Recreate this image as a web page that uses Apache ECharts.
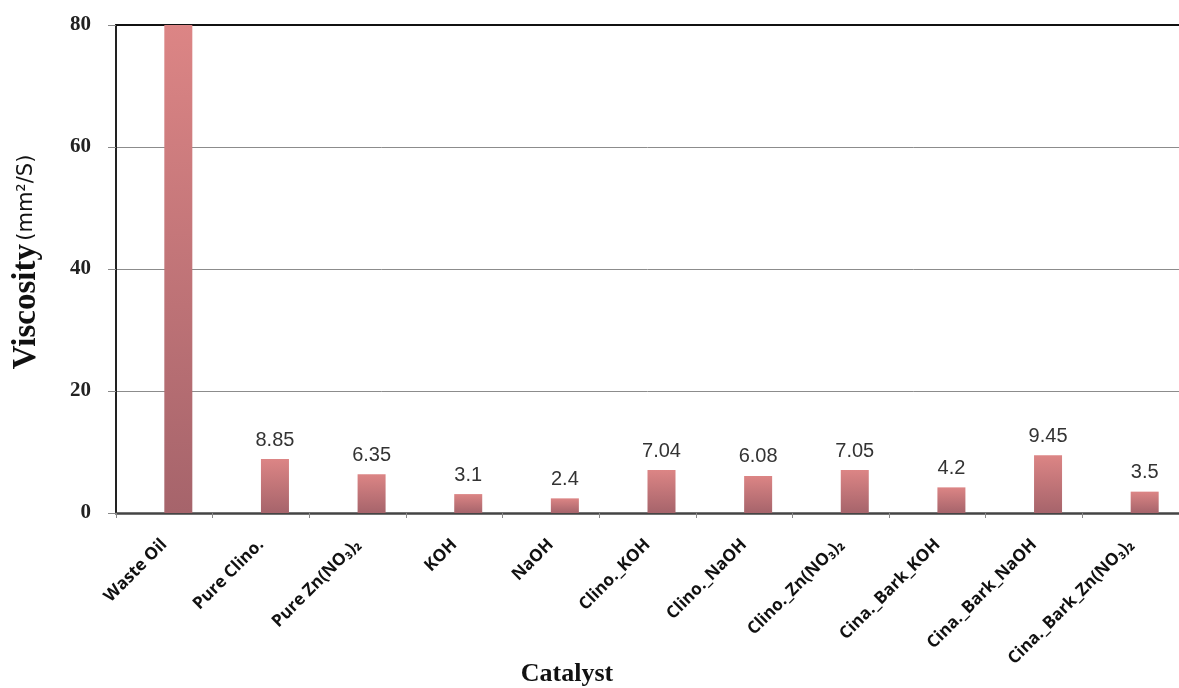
<!DOCTYPE html>
<html>
<head>
<meta charset="utf-8">
<script src="https://cdn.jsdelivr.net/npm/echarts@6/dist/echarts.min.js"></script>
<style>
html,body{margin:0;padding:0;background:#fff;}
#chart{width:1179px;height:688px;}
</style>
</head>
<body>
<div id="chart"></div>
<script>
var categories = ["Waste Oil","Pure Clino.","Pure Zn(NO\u2083)\u2082","KOH","NaOH","Clino._KOH","Clino._NaOH","Clino._Zn(NO\u2083)\u2082","Cina._Bark_KOH","Cina._Bark_NaOH","Cina._Bark_Zn(NO\u2083)\u2082"];
var viscosity = [80, 8.85, 6.35, 3.1, 2.4, 7.04, 6.08, 7.05, 4.2, 9.45, 3.5];
var yTicks = [0, 20, 40, 60, 80];

var chart = echarts.init(document.getElementById('chart'));
var grad = new echarts.graphic.LinearGradient(0,0,0,1,[
  {offset:0,color:'#dc8585'},
  {offset:1,color:'#a6646b'}
]);
var seriesData = viscosity.map(function(v,i){
  if (i === 0) return {value:v, label:{show:false}};
  return v;
});
chart.setOption({
  animation:false,
  title:{
    text:'Catalyst',
    left:562, top:656, textAlign:'center',
    textStyle:{fontFamily:'Liberation Serif', fontWeight:'bold', fontSize:26, color:'#111'}
  },
  grid:{left:116, top:25, width:1074, height:488, containLabel:false},
  xAxis:[{
    type:'category',
    data:categories,
    position:'bottom',
    axisLine:{show:true, lineStyle:{color:'#444', width:2.5}},
    axisTick:{show:true, alignWithLabel:false, length:5, lineStyle:{color:'#888'}},
    axisLabel:{interval:0, rotate:45, margin:29, fontFamily:'Open Sans', fontWeight:'bold', fontSize:17, color:'#111'},
    splitLine:{show:false}
  },{
    type:'category',
    data:categories,
    position:'top',
    axisLine:{show:true, lineStyle:{color:'#111', width:2}},
    axisTick:{show:false},
    axisLabel:{show:false}
  }],
  yAxis:{
    type:'value',
    min:yTicks[0], max:yTicks[yTicks.length-1], interval:20,
    axisLine:{show:true, lineStyle:{color:'#222', width:2}},
    axisTick:{show:true, length:8, lineStyle:{color:'#888'}},
    axisLabel:{margin:25, fontFamily:'Liberation Serif', fontWeight:'bold', fontSize:21, color:'#222'},
    splitLine:{show:true, lineStyle:{color:'#8c8c8c', width:1}},
    name:'{a|Viscosity} {b|(mm\u00b2/S)}',
    nameLocation:'middle',
    nameRotate:90,
    nameGap:73,
    nameTextStyle:{
      padding:[0,0,0,14],
      rich:{
        a:{fontFamily:'Liberation Serif', fontWeight:'bold', fontSize:33, color:'#111'},
        b:{fontFamily:'DejaVu Sans', fontSize:21, color:'#111'}
      }
    }
  },
  series:[{
    type:'bar',
    data:viscosity.map(function(){return null;}),
    barWidth:28,
    barGap:'0%'
  },{
    type:'bar',
    data:seriesData,
    barWidth:28,
    barGap:'0%',
    itemStyle:{color:grad},
    label:{show:true, position:'top', distance:9, fontFamily:'Liberation Sans', fontSize:20, color:'#333'}
  }]
});
</script>
</body>
</html>
